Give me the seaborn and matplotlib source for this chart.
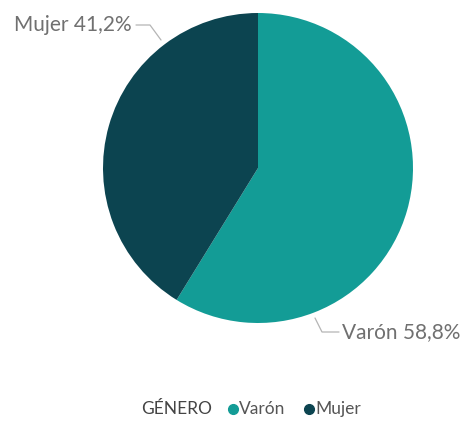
import matplotlib
matplotlib.use("Agg")
import matplotlib.pyplot as plt
from matplotlib.lines import Line2D
import seaborn as sns

sns.set_theme(style="white")
plt.rcParams["font.family"] = ["Lato", "DejaVu Sans"]

categories = ["Varón", "Mujer"]
shares = [58.8, 41.2]
colors = ["#139C96", "#0C4450"]
legend_title = "GÉNERO"

W, H = 464, 421
cx, cy, r = 258, 168, 155  # pie centre / radius in pixels (from top-left)

fig = plt.figure(figsize=(W / 100, H / 100), dpi=100)
ax = fig.add_axes([(cx - r) / W, (H - cy - r) / H, 2 * r / W, 2 * r / H])
ax.pie(shares, colors=colors, startangle=90, counterclock=False,
       wedgeprops=dict(linewidth=0))
ax.set_xlim(-1, 1)
ax.set_ylim(-1, 1)
ax.set_aspect("equal")
ax.axis("off")


def d(px, py):
    return (px - cx) / r, (cy - py) / r


label_color = "#707070"
line_color = "#b5b5b5"

# Mujer label (top-left)
pts = [d(161, 40), d(150, 25), d(136, 25)]
ax.add_line(Line2D([p[0] for p in pts], [p[1] for p in pts], color=line_color,
                   lw=0.9, clip_on=False))
tx, ty = d(132, 25)
ax.text(tx, ty, f"{categories[1]} {shares[1]:.1f}%".replace(".", ","),
        ha="right", va="center", fontsize=15, color=label_color, clip_on=False)

# Varón label (bottom-right)
pts = [d(315, 318), d(322, 332), d(339, 332)]
ax.add_line(Line2D([p[0] for p in pts], [p[1] for p in pts], color=line_color,
                   lw=0.9, clip_on=False))
tx, ty = d(342, 332)
ax.text(tx, ty, f"{categories[0]} {shares[0]:.1f}%".replace(".", ","),
        ha="left", va="center", fontsize=15, color=label_color, clip_on=False)

# legend row
ly = 1 - 409 / H
fig.text(141 / W, ly, legend_title, ha="left", va="center", fontsize=12.5,
         color="#444444")
x_marks = [233, 309]
for name, col, xm in zip(categories, colors, x_marks):
    fig.add_artist(Line2D([xm / W], [ly], marker="o", markersize=7,
                          color=col, transform=fig.transFigure))
    fig.text((xm + 6) / W, ly, name, ha="left", va="center", fontsize=12.5,
             color="#555555")

fig.savefig("out.png", dpi=100)
